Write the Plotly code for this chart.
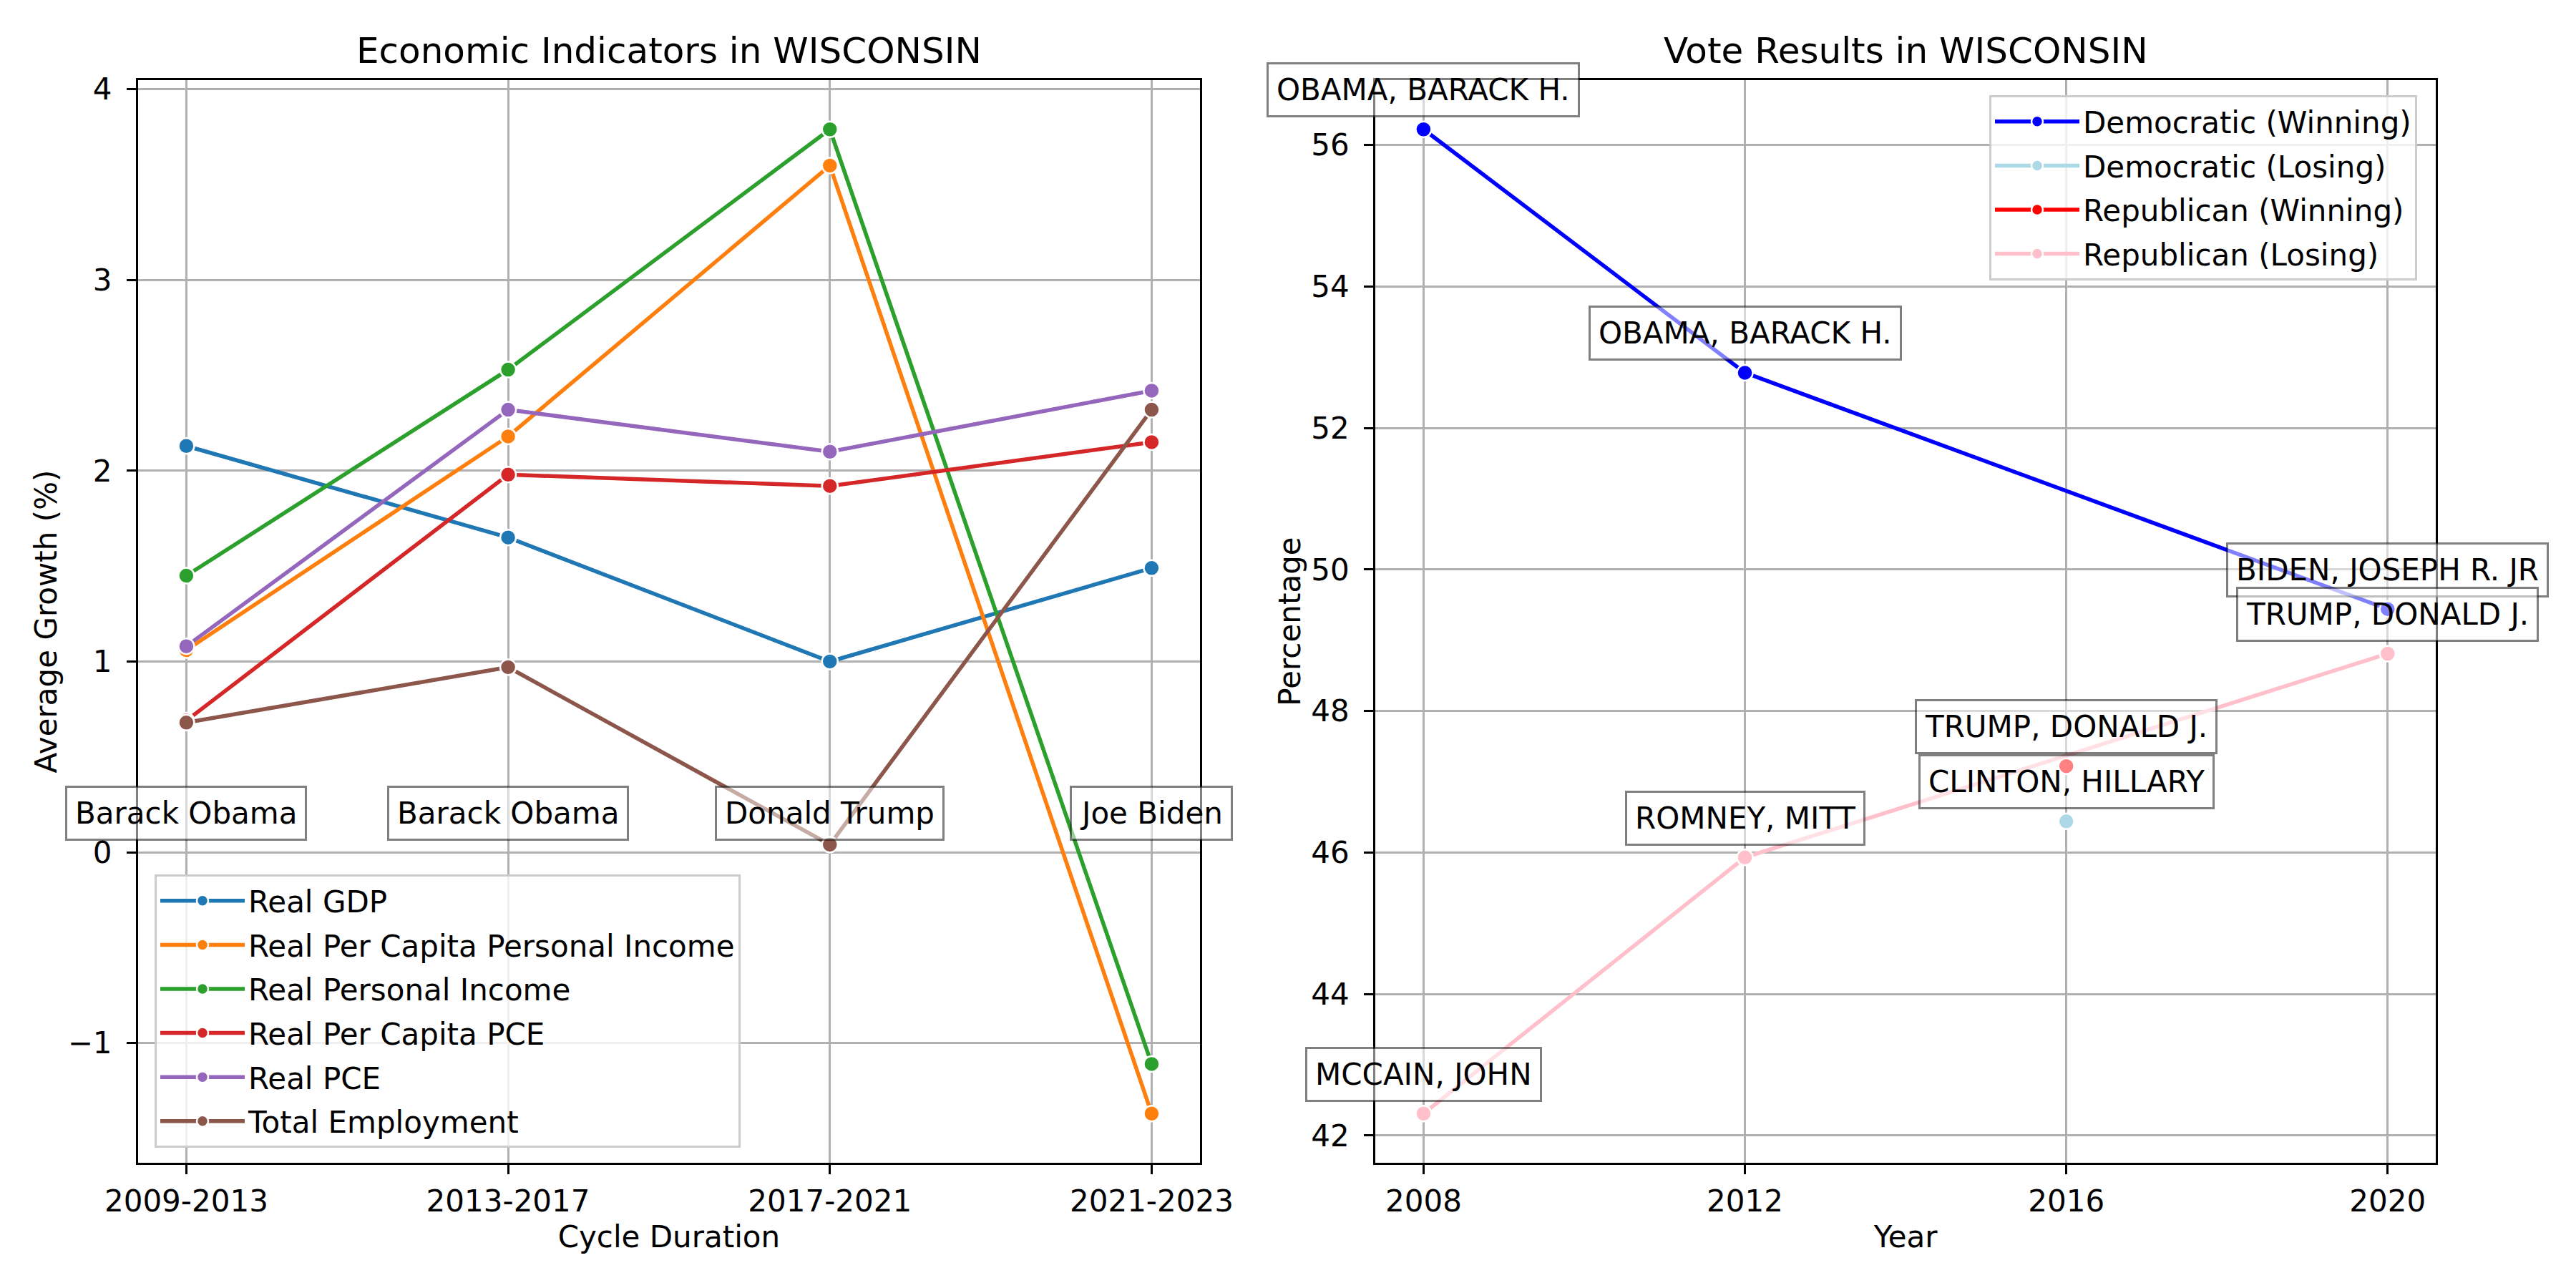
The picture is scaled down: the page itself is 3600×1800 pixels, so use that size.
import plotly.graph_objects as go

# ---------------- data: left panel ----------------
cycles = ["2009-2013", "2013-2017", "2017-2021", "2021-2023"]
presidents = ["Barack Obama", "Barack Obama", "Donald Trump", "Joe Biden"]
indicator_names = ["Real GDP", "Real Per Capita Personal Income", "Real Personal Income",
                   "Real Per Capita PCE", "Real PCE", "Total Employment"]
real_gdp = [2.13, 1.65, 1.00, 1.49]
real_pc_income = [1.06, 2.18, 3.60, -1.37]
real_income = [1.45, 2.53, 3.79, -1.11]
real_pc_pce = [0.69, 1.98, 1.92, 2.15]
real_pce = [1.08, 2.32, 2.10, 2.42]
total_employment = [0.68, 0.97, 0.04, 2.32]
indicator_colors = ["#1f77b4", "#ff7f0e", "#2ca02c", "#d62728", "#9467bd", "#8c564b"]
president_label_y = 0.206

# ---------------- data: right panel ----------------
dem_win_years = [2008, 2012, 2020]
dem_win_pct = [56.22, 52.78, 49.44]
dem_win_names = ["OBAMA, BARACK H.", "OBAMA, BARACK H.", "BIDEN, JOSEPH R. JR"]
dem_lose_years = [2016]
dem_lose_pct = [46.44]
dem_lose_names = ["CLINTON, HILLARY"]
rep_win_years = [2016]
rep_win_pct = [47.22]
rep_win_names = ["TRUMP, DONALD J."]
rep_lose_years = [2008, 2012, 2020]
rep_lose_pct = [42.31, 45.93, 48.81]
rep_lose_names = ["MCCAIN, JOHN", "ROMNEY, MITT", "TRUMP, DONALD J."]
year_ticks = [2008, 2012, 2016, 2020]

FONT = "DejaVu Sans"
FS = 42
TFS = 50
series = [real_gdp, real_pc_income, real_income, real_pc_pce, real_pce, total_employment]

fig = go.Figure()

for i, (name, vals, col) in enumerate(zip(indicator_names, series, indicator_colors)):
    fig.add_trace(go.Scatter(
        x=cycles, y=vals, name=name, mode="lines+markers",
        line=dict(color=col, width=5.5),
        marker=dict(size=22, color=col, line=dict(color="white", width=2.5)),
        xaxis="x", yaxis="y", legend="legend", legendgroup=f"g{i}",
    ))

vote_series = [
    ("Democratic (Winning)", dem_win_years, dem_win_pct, "#0000ff"),
    ("Democratic (Losing)", dem_lose_years, dem_lose_pct, "#add8e6"),
    ("Republican (Winning)", rep_win_years, rep_win_pct, "#ff0000"),
    ("Republican (Losing)", rep_lose_years, rep_lose_pct, "#ffc0cb"),
]
for i, (name, xs, ys, col) in enumerate(vote_series):
    fig.add_trace(go.Scatter(
        x=xs, y=ys, name=name, mode="lines+markers",
        line=dict(color=col, width=5.5),
        marker=dict(size=22, color=col, line=dict(color="white", width=2.5)),
        xaxis="x2", yaxis="y2", legend="legend2", legendgroup=f"v{i}",
    ))

annotations = []
box = dict(bgcolor="rgba(255,255,255,0.5)", bordercolor="rgba(0,0,0,0.5)",
           borderwidth=3, borderpad=11, font=dict(family=FONT, size=FS, color="black"),
           showarrow=False)
for c, p in zip(cycles, presidents):
    annotations.append(dict(x=c, y=president_label_y, xref="x", yref="y", text=p,
                            xanchor="center", yanchor="middle", **box))

# per-year annotations (dem then rep)
points = []
for xs, ys, ns in [(dem_win_years, dem_win_pct, dem_win_names), (dem_lose_years, dem_lose_pct, dem_lose_names),
                   (rep_win_years, rep_win_pct, rep_win_names), (rep_lose_years, rep_lose_pct, rep_lose_names)]:
    for xv, yv, nv in zip(xs, ys, ns):
        points.append((xv, yv, nv))
order = []
for yr in year_ticks:
    order += [p for p in points if p[0] == yr]
for xv, yv, nv in order:
    annotations.append(dict(x=xv, y=yv, xref="x2", yref="y2", text=nv,
                            xanchor="center", yanchor="middle", yshift=55, **box))

LD = [0.0536, 0.4658]
RD = [0.5339, 0.9456]
YD = [0.0972, 0.9378]

# subplot titles
annotations.append(dict(x=sum(LD) / 2, y=1 - 71 / 1800, xref="paper", yref="paper",
                        text="Economic Indicators in WISCONSIN", showarrow=False,
                        font=dict(family=FONT, size=TFS, color="black"), xanchor="center", yanchor="middle"))
annotations.append(dict(x=sum(RD) / 2, y=1 - 71 / 1800, xref="paper", yref="paper",
                        text="Vote Results in WISCONSIN", showarrow=False,
                        font=dict(family=FONT, size=TFS, color="black"), xanchor="center", yanchor="middle"))


def pad_range(vals, frac=0.05):
    lo, hi = min(vals), max(vals)
    d = (hi - lo) * frac
    return [lo - d, hi + d]


all_left = [v for s in series for v in s]
all_right = dem_win_pct + dem_lose_pct + rep_win_pct + rep_lose_pct
all_years = dem_win_years + dem_lose_years + rep_win_years + rep_lose_years

axis_common = dict(
    showline=True, mirror=True, linecolor="black", linewidth=3,
    showgrid=True, gridcolor="#b0b0b0", gridwidth=3, zeroline=False,
    ticks="outside", ticklen=13, tickwidth=3, tickcolor="black", automargin=False,
    tickfont=dict(family=FONT, size=FS, color="black"),
)
tfont = dict(family=FONT, size=FS, color="black")

fig.update_layout(
    template="none",
    width=3600, height=1800, autosize=False,
    margin=dict(l=0, r=0, t=0, b=0, pad=0, autoexpand=False),
    paper_bgcolor="white", plot_bgcolor="white",
    font=dict(family=FONT, size=FS, color="black"),
    xaxis=dict(domain=LD, anchor="y", type="category",
               range=[-0.15, len(cycles) - 1 + 0.15], ticklabelstandoff=2,
               title=dict(text="Cycle Duration", font=tfont, standoff=12),
               **axis_common),
    yaxis=dict(domain=YD, anchor="x", range=pad_range(all_left), dtick=1, ticklabelstandoff=12,
               title=dict(text="Average Growth (%)", font=tfont, standoff=2),
               **axis_common),
    xaxis2=dict(domain=RD, anchor="y2", range=pad_range(all_years), tickvals=year_ticks,
                ticklabelstandoff=2,
                title=dict(text="Year", font=tfont, standoff=12),
                **axis_common),
    yaxis2=dict(domain=YD, anchor="x2", range=pad_range(all_right), dtick=2, ticklabelstandoff=12,
                title=dict(text="Percentage", font=tfont, standoff=2),
                **axis_common),
    legend=dict(x=216 / 3600, y=1 - 1604 / 1800, xanchor="left", yanchor="bottom",
                bgcolor="rgba(255,255,255,0.8)", bordercolor="#cccccc", borderwidth=3,
                font=tfont, tracegroupgap=4, itemwidth=118),
    legend2=dict(x=2780 / 3600, y=1 - 133 / 1800, xanchor="left", yanchor="top",
                 bgcolor="rgba(255,255,255,0.8)", bordercolor="#cccccc", borderwidth=3,
                 font=tfont, tracegroupgap=4, itemwidth=118),
    annotations=annotations,
    showlegend=True,
)

fig.write_html("out.html", config={"displayModeBar": False},
               post_script="document.body.style.margin='0';")
